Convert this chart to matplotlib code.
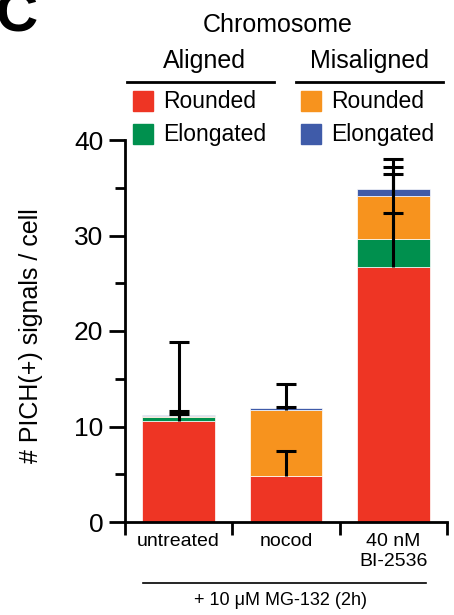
import numpy as np
import matplotlib.pyplot as plt
from matplotlib.patches import Rectangle
from matplotlib.lines import Line2D

plt.rcParams['font.family'] = ['Liberation Sans', 'DejaVu Sans']

# data
categories = ['untreated', 'nocod', '40 nM\nBI-2536']
aligned_rounded = [10.6, 4.8, 26.7]
aligned_elongated = [0.35, 0.0, 2.9]
misaligned_rounded = [0.2, 6.9, 4.5]
misaligned_elongated = [0.05, 0.2, 0.8]

aligned_rounded_err = [8.3, 2.6, 5.7]
aligned_elongated_err = [0.35, 0.0, 6.8]
misaligned_rounded_err = [0.5, 2.7, 3.9]
misaligned_elongated_err = [0.0, 0.1, 2.3]

series = [aligned_rounded, aligned_elongated, misaligned_rounded, misaligned_elongated]
errors = [aligned_rounded_err, aligned_elongated_err, misaligned_rounded_err, misaligned_elongated_err]
colors = ['#EE3524', '#00904E', '#F7931E', '#3F5BA9']
legend_labels = ['Rounded', 'Elongated', 'Rounded', 'Elongated']

W, H = 454, 615
fig = plt.figure(figsize=(W / 100, H / 100), dpi=100)


def fx(x):
    return x / W


def fy(y):
    return 1 - y / H


ax = fig.add_axes([fx(125), fy(522), fx(447) - fx(125), fy(140) - fy(522)])

x = np.arange(len(categories)) + 0.5
bottom = np.zeros(len(categories))
for vals, errs, c in zip(series, errors, colors):
    vals = np.array(vals)
    ax.bar(x, vals, width=0.68, bottom=bottom, color=c, edgecolor='white',
           linewidth=0.5, clip_on=False, zorder=2)
    top = bottom + vals
    # upper-only error bars with a single cap
    for xi, t, e in zip(x, top, errs):
        if e > 0:
            ax.plot([xi, xi], [t, t + e], color='black', linewidth=2.2,
                    solid_capstyle='butt', clip_on=False, zorder=3)
            ax.plot(xi, t + e, marker='_', markersize=14.5, markeredgewidth=2.2,
                    color='black', clip_on=False, zorder=3)
    bottom = top

ax.set_xlim(0, 3)
ax.set_ylim(0, 40)
ax.set_yticks([0, 10, 20, 30, 40])
ax.set_yticks([5, 15, 25, 35], minor=True)
ax.set_xticks([0, 1, 2, 3])
ax.set_xticklabels([])
ax.set_xticks(x, minor=True)
ax.set_xticklabels(categories, minor=True, fontsize=14, linespacing=1.25)
ax.tick_params(axis='x', which='minor', length=0, pad=8)
ax.tick_params(axis='x', which='major', length=9, width=2, direction='out')
ax.tick_params(axis='y', which='major', length=11.5, width=2, labelsize=19, pad=4)
ax.tick_params(axis='y', which='minor', length=7, width=2)
for s in ['top', 'right']:
    ax.spines[s].set_visible(False)
for s in ['left', 'bottom']:
    ax.spines[s].set_linewidth(2)
ax.set_ylabel('# PICH(+) signals / cell', fontsize=18)
ax.yaxis.set_label_coords(-0.255, 0.487)

# treatment bracket below
fig.add_artist(Line2D([fx(143), fx(426)], [fy(583), fy(583)], color='black', linewidth=1.2))
fig.text(fx(281), fy(605), '+ 10 \u03bcM MG-132 (2h)', fontsize=13, ha='center', va='baseline')

# legend header
fig.text(fx(278), fy(31.5), 'Chromosome', fontsize=18, ha='center', va='baseline')
fig.text(fx(204), fy(68), 'Aligned', fontsize=18, ha='center', va='baseline')
fig.text(fx(370), fy(68), 'Misaligned', fontsize=18, ha='center', va='baseline')
fig.add_artist(Line2D([fx(127), fx(274)], [fy(81.5), fy(81.5)], color='black', linewidth=2))
fig.add_artist(Line2D([fx(296), fx(443)], [fy(81.5), fy(81.5)], color='black', linewidth=2))

legend_pos = [(133, 91), (133, 124), (301, 91), (301, 124)]
for (lx, ly), c, lab in zip(legend_pos, colors, legend_labels):
    fig.add_artist(Rectangle((fx(lx), fy(ly + 20)), fx(20), 20 / H, color=c,
                             transform=fig.transFigure))
    fig.text(fx(lx + 30), fy(ly + 10), lab, fontsize=16.5, ha='left', va='center')

# panel letter
fig.text(fx(-4), fy(31), 'C', fontsize=42, fontweight='bold', ha='left', va='baseline')

fig.savefig('out.png', dpi=100)
